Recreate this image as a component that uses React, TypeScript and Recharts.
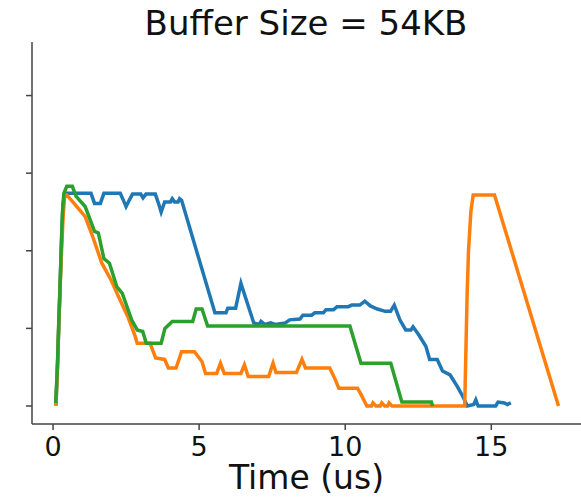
import { LineChart, Line, XAxis, YAxis, Label } from 'recharts';

// time (us) / occupancy pairs
const blueTime = [0.1, 0.16, 0.22, 0.28, 0.34, 0.4, 1.3, 1.42, 1.62, 1.74, 2.3, 2.42, 2.5, 2.62, 2.72, 3.0, 3.08, 3.18, 3.5, 3.62, 3.7, 3.82, 4.02, 4.08, 4.16, 4.28, 4.33, 4.4, 5.54, 5.92, 5.98, 6.25, 6.43, 6.87, 7.05, 7.12, 7.25, 7.45, 7.6, 7.95, 8.1, 8.45, 8.55, 8.85, 8.96, 9.25, 9.34, 9.6, 9.72, 10.1, 10.23, 10.5, 10.67, 10.86, 11.1, 11.37, 11.55, 11.68, 11.87, 12.07, 12.25, 12.32, 12.51, 12.76, 12.89, 13.15, 13.33, 13.59, 13.84, 14.03, 14.18, 14.4, 14.47, 14.55, 15.15, 15.23, 15.45, 15.55, 15.67];
const blueValue = [0, 6, 13, 20, 26, 27.4, 27.4, 26.1, 26.1, 27.4, 27.4, 26.4, 25.7, 26.6, 27.3, 27.3, 26.8, 27.3, 27.3, 26.0, 25.0, 26.3, 26.3, 26.7, 26.3, 26.3, 26.7, 26.5, 12.0, 12.0, 12.6, 12.6, 15.8, 10.7, 10.5, 10.9, 10.5, 10.7, 10.5, 10.7, 11.1, 11.2, 11.7, 11.7, 12.0, 12.0, 12.4, 12.4, 12.8, 12.8, 13.0, 13.0, 13.5, 12.9, 12.5, 12.2, 12.2, 13.0, 11.1, 9.8, 9.8, 10.2, 9.2, 7.7, 6.0, 6.0, 4.5, 4.0, 2.5, 1.2, 0, 0.2, 0.8, 0, 0, 0.5, 0.4, 0.2, 0.4];

const orangeTime = [0.1, 0.16, 0.22, 0.28, 0.34, 0.4, 0.47, 0.72, 1.1, 1.36, 1.67, 1.99, 2.24, 2.56, 2.81, 2.88, 3.32, 3.51, 3.82, 3.95, 4.21, 4.4, 4.84, 5.1, 5.22, 5.6, 5.73, 5.86, 6.43, 6.55, 6.68, 7.38, 7.53, 7.63, 8.33, 8.52, 8.64, 9.47, 9.66, 9.78, 10.42, 10.54, 10.74, 10.9, 10.95, 11.05, 11.2, 11.25, 11.35, 11.45, 11.5, 11.6, 14.09, 14.13, 14.17, 14.22, 14.3, 14.38, 15.11, 17.3];
const orangeValue = [0, 6, 13, 19, 24, 27.2, 27.2, 26.1, 24.4, 21.8, 18.4, 16.2, 14.1, 11.5, 9.0, 8.1, 8.1, 6.2, 6.0, 4.9, 4.9, 7.0, 7.0, 5.7, 4.2, 4.2, 5.5, 4.2, 4.2, 5.3, 3.8, 3.8, 5.5, 4.3, 4.3, 6.0, 4.9, 4.9, 3.4, 2.3, 2.3, 1.5, 0, 0, 0.4, 0, 0, 0.4, 0, 0, 0.4, 0, 0, 7, 14, 20, 25, 27.2, 27.2, 0];

const greenTime = [0.09, 0.15, 0.19, 0.24, 0.28, 0.32, 0.37, 0.47, 0.66, 0.79, 1.1, 1.42, 1.55, 1.74, 1.93, 2.18, 2.37, 2.69, 2.88, 3.07, 3.19, 3.7, 3.83, 4.08, 4.78, 4.9, 5.1, 5.29, 10.16, 10.54, 11.56, 11.94, 12.95, 12.99];
const greenValue = [0.4, 5.1, 10.2, 15.4, 20.5, 24.8, 27.4, 28.3, 28.3, 27.0, 25.7, 22.5, 22.3, 19.0, 18.4, 15.4, 14.5, 11.1, 9.8, 9.6, 8.1, 8.1, 10.0, 10.9, 10.9, 12.5, 12.5, 10.3, 10.3, 5.5, 5.5, 0.5, 0.5, 0];

const xTicks = [0, 5, 10, 15];
const yTicks = [0, 10, 20, 30, 40];

const toPoints = (t: number[], v: number[]) => t.map((x, i) => ({ t: x, v: v[i] }));

const blueData = toPoints(blueTime, blueValue);
const orangeData = toPoints(orangeTime, orangeValue);
const greenData = toPoints(greenTime, greenValue);

const FONT = '"DejaVu Sans", sans-serif';
const AXIS = '#444';

const XTick = ({ x, y, payload }: any) => (
    <text x={x} y={y + 26} textAnchor="middle" fontFamily={FONT} fontSize={27} fill="#111">
        {payload.value}
    </text>
);

export default function App() {
    return (
        <div style={{ position: 'absolute', left: 0, top: 0, width: 581, height: 497, background: '#fff' }}>
            <LineChart width={581} height={497} margin={{ top: 42, right: 0, bottom: 0, left: 0 }}>
                <XAxis
                    type="number"
                    dataKey="t"
                    domain={[-0.72, 18.07]}
                    ticks={xTicks}
                    allowDataOverflow
                    height={73}
                    tickSize={6}
                    tickMargin={0}
                    tick={<XTick />}
                    axisLine={{ stroke: AXIS, strokeWidth: 1.5 }}
                    tickLine={{ stroke: AXIS, strokeWidth: 1.5 }}
                >
                    <Label
                        content={({ viewBox }: any) => (
                            <text
                                x={viewBox.x + viewBox.width / 2}
                                y={viewBox.y + 65}
                                textAnchor="middle"
                                fontFamily={FONT}
                                fontSize={33}
                                fill="#111"
                            >
                                Time (us)
                            </text>
                        )}
                    />
                </XAxis>
                <YAxis
                    type="number"
                    dataKey="v"
                    domain={[-2.32, 46.9]}
                    ticks={yTicks}
                    allowDataOverflow
                    width={32}
                    tickSize={6}
                    tick={() => <g />}
                    axisLine={{ stroke: AXIS, strokeWidth: 1.5 }}
                    tickLine={{ stroke: AXIS, strokeWidth: 1.5 }}
                />
                <Line data={blueData} dataKey="v" type="linear" stroke="#1f77b4" strokeWidth={3.5} dot={false} isAnimationActive={false} />
                <Line data={orangeData} dataKey="v" type="linear" stroke="#ff7f0e" strokeWidth={3.5} dot={false} isAnimationActive={false} />
                <Line data={greenData} dataKey="v" type="linear" stroke="#2ca02c" strokeWidth={3.5} dot={false} isAnimationActive={false} />
            </LineChart>
            <svg width={581} height={50} style={{ position: 'absolute', left: 0, top: 0 }}>
                <text x={306} y={35} textAnchor="middle" fontFamily={FONT} fontSize={34} fill="#111">
                    Buffer Size = 54KB
                </text>
            </svg>
        </div>
    );
}
